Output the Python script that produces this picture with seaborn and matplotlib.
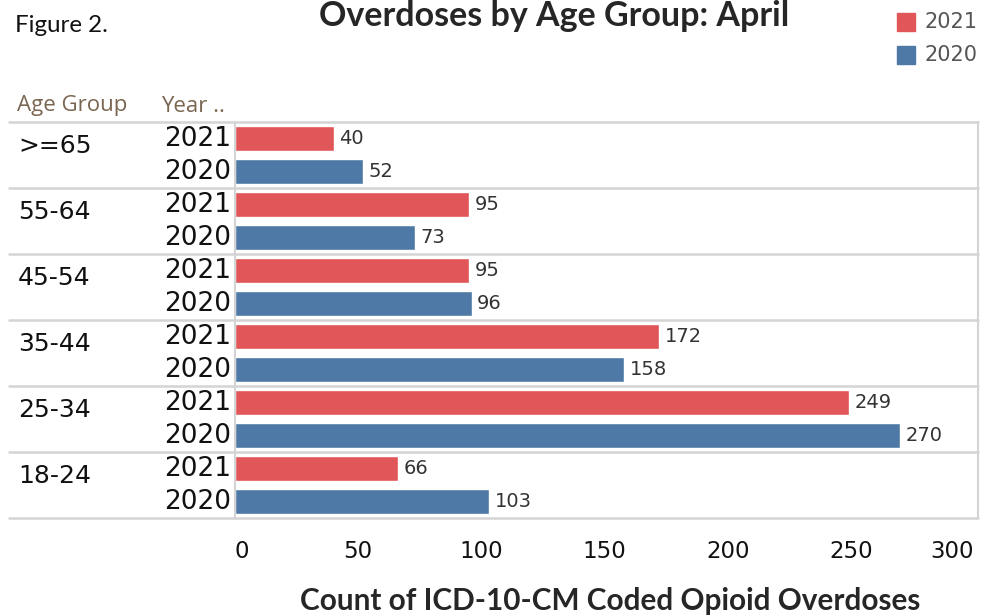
import pandas as pd
import matplotlib.pyplot as plt
import seaborn as sns

# -----------------------------
# Data
# -----------------------------
age_groups = [">=65", "55-64", "45-54", "35-44", "25-34", "18-24"]
years = ["2021", "2020"]
counts_2021 = [40, 95, 95, 172, 249, 66]
counts_2020 = [52, 73, 96, 158, 270, 103]
x_ticks = [0, 50, 100, 150, 200, 250, 300]

rows = []
for g, c21, c20 in zip(age_groups, counts_2021, counts_2020):
    rows.append({"row": f"{g} 2021", "age": g, "year": "2021", "count": c21})
    rows.append({"row": f"{g} 2020", "age": g, "year": "2020", "count": c20})
df = pd.DataFrame(rows)

red = "#e15759"
blue = "#4e79a7"
grid_col = "#d4d4d4"
head_col = "#7a6650"

# -----------------------------
# Figure
# -----------------------------
sns.set_style("white")
plt.rcParams["font.family"] = ["DejaVu Sans"]

W, H = 989, 616
fig = plt.figure(figsize=(W / 100, H / 100), dpi=100)
x0, x1, y_top, y_bot = 235, 978, 122, 518
ax = fig.add_axes([x0 / W, 1 - y_bot / H, (x1 - x0) / W, (y_bot - y_top) / H])

sns.barplot(
    data=df, x="count", y="row", hue="year",
    order=df["row"].tolist(), hue_order=years,
    palette={"2021": red, "2020": blue},
    dodge=False, width=0.76, saturation=1, legend=False, ax=ax,
)

ax.set_xlim(0, 301.5)
ax.set_ylim(len(df) - 0.5, -0.5)
ax.set_xlabel("")
ax.set_ylabel("")
ax.set_yticks([])
ax.set_xticks(x_ticks)
ax.tick_params(axis="x", length=7, color=grid_col, labelsize=16.5, pad=9,
               labelcolor="#111111")
tl = ax.get_xticklabels()
tl[0].set_ha("left")
tl[-1].set_ha("right")

for s in ["top", "bottom"]:
    ax.spines[s].set_visible(False)
ax.spines["left"].set_color(grid_col)
ax.spines["right"].set_color(grid_col)
ax.spines["left"].set_linewidth(1.5)
ax.spines["right"].set_linewidth(1.5)

# value labels
for cont in ax.containers:
    ax.bar_label(cont, padding=4, fontsize=14, color="#333333")

# group separators extending into the header area
left_ax = (9 - x0) / (x1 - x0)
tr = ax.get_yaxis_transform()
for b in [-0.5, 1.5, 3.5, 5.5, 7.5, 9.5, 11.5]:
    ax.plot([left_ax, 1], [b, b], color=grid_col, lw=1.8,
            transform=tr, clip_on=False)

# row headers
year_x = (231 - x0) / (x1 - x0)
age_x = (18 - x0) / (x1 - x0)
for i, r in df.iterrows():
    ax.text(year_x, i, r["year"], transform=tr, ha="right", va="center",
            fontsize=19, color="#111111")
for j, g in enumerate(age_groups):
    ax.text(age_x, 2 * j + 0.22, g, transform=tr, ha="left", va="center",
            fontsize=18, color="#111111")

# column headers
fig.text(17 / W, 1 - 106 / H, "Age Group", fontsize=16, color=head_col,
         family="Open Sans", ha="left", va="center")
fig.text(161 / W, 1 - 106 / H, "Year ..", fontsize=16, color=head_col,
         family="Open Sans", ha="left", va="center")

# titles
fig.text(15 / W, 1 - 26 / H, "Figure 2.", fontsize=17.4, family="Lato",
         ha="left", va="center", color="#111111")
fig.text(554 / W, 1 - 16 / H, "Overdoses by Age Group: April", fontsize=24.5,
         family="Lato", weight="bold", ha="center", va="center")
fig.text(610 / W, 1 - 601 / H, "Count of ICD-10-CM Coded Opioid Overdoses",
         fontsize=21.4, family="Lato", weight="bold", ha="center", va="center")

# legend
for k, (lab, col) in enumerate([("2021", red), ("2020", blue)]):
    yc = 22 + 33 * k
    fig.patches.append(plt.Rectangle((897 / W, 1 - (yc + 9) / H), 18 / W, 18 / H,
                                     color=col, transform=fig.transFigure))
    fig.text(924 / W, 1 - yc / H, lab, fontsize=15, color="#555555",
             ha="left", va="center")

fig.savefig("out.png", dpi=100)
plt.close(fig)
